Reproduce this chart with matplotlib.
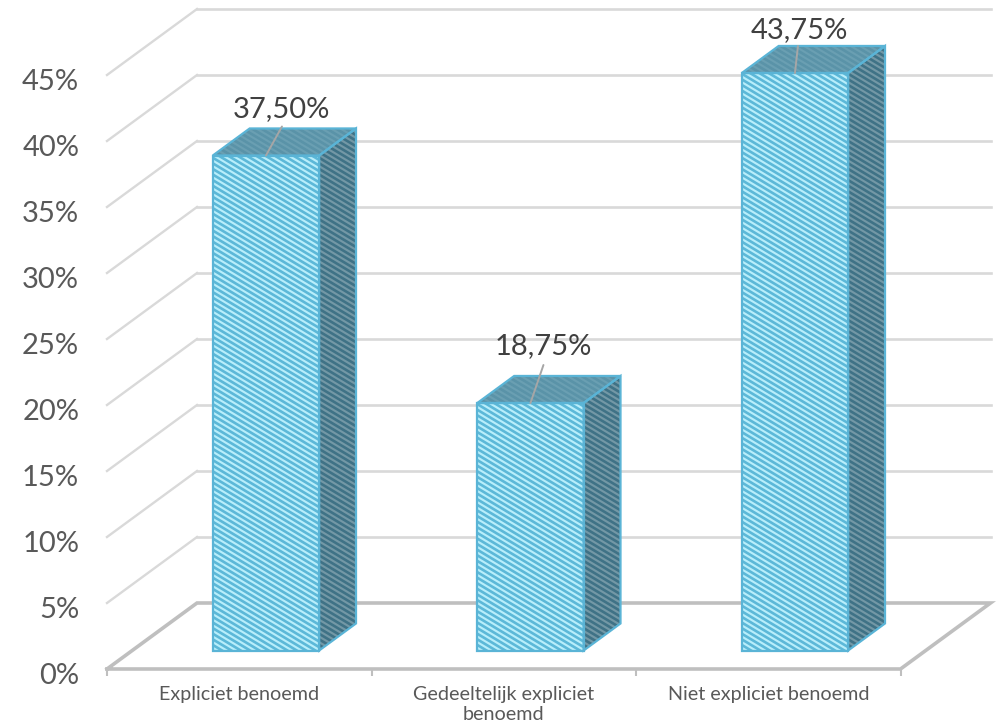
"""
3D-looking column chart (oblique projection) with striped columns.
"""

import matplotlib

matplotlib.use("Agg")

import matplotlib.pyplot as plt
import numpy as np
from matplotlib.collections import LineCollection
from matplotlib.patches import Polygon
from matplotlib.ticker import FixedLocator, NullFormatter
from matplotlib.transforms import IdentityTransform, ScaledTranslation


categories = ["Expliciet benoemd", "Gedeeltelijk expliciet\nbenoemd", "Niet expliciet benoemd"]
values = [37.5, 18.75, 43.75]
value_labels = ["37,50%", "18,75%", "43,75%"]
y_ticks = [0, 5, 10, 15, 20, 25, 30, 35, 40, 45]
y_tick_labels = ["0%", "5%", "10%", "15%", "20%", "25%", "30%", "35%", "40%", "45%"]
Y_MAX = 50

# Layout, all derived from the 1000x725 canvas
WALL_DX = 90 / 264.5  # horizontal shift of the back wall, in categories
WALL_DY = 5  # vertical shift of the back wall, in percent
BAR_WIDTH = 0.402
BAR_SHIFT = 1.5 / 264.5
BAR_FRONT = 0.28  # depth of the front and back of a bar, 0 is front, 1 is back
BAR_BACK = 0.69
GRID = "#d9d9d9"
FLOOR = "#bfbfbf"
EDGE = "#5ab4d6"
TEXT = "#595959"
LABEL_TEXT = "#404040"
# Offsets from the middle of a bar's top front edge, in pixels
LABEL_OFFSETS = [(16, 46), (13, 57), (4, 43)]
LEADER_OFFSETS = [(16, 29), (13, 38), (3, 27)]
STRIPE_PERIOD = 5.6  # vertical distance between stripes, pixels
STRIPE_SLOPE = 0.6

plt.rcParams["font.family"] = ["Lato", "DejaVu Sans"]


def project(x, value, depth):
    return x + depth * WALL_DX, value + depth * WALL_DY


def striped_face(corners, light, dark):
    """Fill one face of a column with diagonal stripes, clipped to the face."""
    points = [project(*c) for c in corners]
    patch = Polygon(points, closed=True, clip_on=False, facecolor=light, lw=0, zorder=3)
    ax.add_patch(patch)

    pixels = ax.transData.transform(points)
    x0, x1 = pixels[:, 0].min(), pixels[:, 0].max()
    y0, y1 = pixels[:, 1].min(), pixels[:, 1].max()
    starts = np.arange(y0, y1 + STRIPE_SLOPE * (x1 - x0) + STRIPE_PERIOD, STRIPE_PERIOD)
    segments = [[(x0, s), (x1, s - STRIPE_SLOPE * (x1 - x0))] for s in starts]
    stripes = LineCollection(segments, colors=dark, linewidths=1.9,
                             transform=IdentityTransform(), zorder=3)
    ax.add_collection(stripes, autolim=False)
    stripes.set_clip_path(patch)

    ax.add_patch(Polygon(points, closed=True, clip_on=False, facecolor="none",
                         edgecolor=EDGE, lw=1.6, zorder=4))


fig = plt.figure(figsize=(10, 7.25), dpi=100)
ax = fig.add_axes([0.107, 56 / 725, 0.885, 660 / 725])
x_start = -0.5
x_end = x_start + 885 / 264.5
ax.set_xlim(x_start, x_end)
ax.set_ylim(0, Y_MAX)

for spine in ax.spines.values():
    spine.set_visible(False)

# Walls
for tick in y_ticks + [Y_MAX]:
    back_left = project(x_start, tick, 1)
    back_right = project(x_start + 3, tick, 1)
    if tick > 0:
        ax.plot([back_left[0], back_right[0]], [back_left[1], back_right[1]],
                color=GRID, lw=1.9, clip_on=False, zorder=1)
    if 0 < tick < Y_MAX:
        front = project(x_start, tick, 0)
        ax.plot([front[0], back_left[0]], [front[1], back_left[1]],
                color=GRID, lw=1.7, clip_on=False, zorder=1)

# Floor
floor_x = [x_start, x_start + 3, x_start + 3, x_start, x_start]
floor_d = [0, 0, 1, 1, 0]
floor_pts = [project(x, 0, d) for x, d in zip(floor_x, floor_d)]
ax.plot([p[0] for p in floor_pts], [p[1] for p in floor_pts],
        color=FLOOR, lw=2.6, clip_on=False, zorder=2, solid_joinstyle="miter")

# Columns
for i, value in enumerate(values):
    left = i + BAR_SHIFT - BAR_WIDTH / 2
    right = i + BAR_SHIFT + BAR_WIDTH / 2
    striped_face([(right, 0, BAR_FRONT), (right, 0, BAR_BACK), (right, value, BAR_BACK), (right, value, BAR_FRONT)],
                 "#7398a6", "#3f7286")
    striped_face([(left, value, BAR_FRONT), (right, value, BAR_FRONT), (right, value, BAR_BACK), (left, value, BAR_BACK)],
                 "#6a9fb2", "#5a93a8")
    striped_face([(left, 0, BAR_FRONT), (right, 0, BAR_FRONT), (right, value, BAR_FRONT), (left, value, BAR_FRONT)],
                 "#b8eefb", "#5cb8d8")

    # Leader line and data label
    anchor = project(i + BAR_SHIFT, value, BAR_FRONT)
    ax.annotate("", xy=anchor, xytext=LEADER_OFFSETS[i], textcoords="offset pixels",
                arrowprops=dict(arrowstyle="-", color="#a6a6a6", lw=1.4, shrinkA=0, shrinkB=0),
                annotation_clip=False, zorder=5)
    ax.annotate(value_labels[i], xy=anchor, xytext=LABEL_OFFSETS[i], textcoords="offset pixels",
                ha="center", va="center", fontsize=21, color=LABEL_TEXT,
                annotation_clip=False, zorder=6)

# Axis labels
ax.set_yticks(y_ticks, y_tick_labels)
ax.tick_params(axis="y", length=0, pad=20, labelsize=21, labelcolor=TEXT)
nudge = ScaledTranslation(0, -5 / 100, fig.dpi_scale_trans)
for label in ax.get_yticklabels():
    label.set_transform(label.get_transform() + nudge)

ax.set_xticks(range(len(categories)), categories)
ax.tick_params(axis="x", which="major", length=0, pad=12, labelsize=14.2, labelcolor=TEXT)
for label in ax.get_xticklabels():
    label.set_linespacing(1.25)
ax.xaxis.set_minor_locator(FixedLocator([x_start + i for i in range(4)]))
ax.xaxis.set_minor_formatter(NullFormatter())
ax.tick_params(axis="x", which="minor", length=5, width=1.5, color=FLOOR, direction="out")
ax.patch.set_visible(False)

fig.savefig("out.png", dpi=100)
